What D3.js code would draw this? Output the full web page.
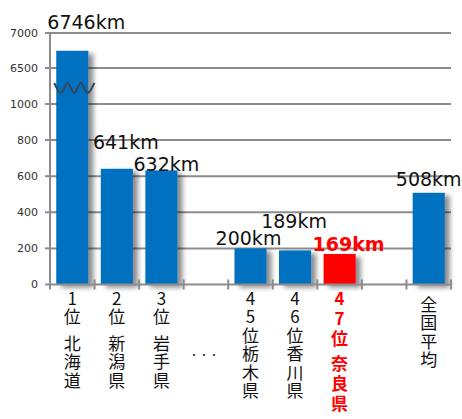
<!DOCTYPE html>
<html>
<head>
<meta charset="utf-8">
<script src="https://cdn.jsdelivr.net/npm/d3@7"></script>
<style>
  body { margin: 0; background: #fff; }
  svg { display: block; }
  .vert { writing-mode: vertical-rl; text-orientation: upright; }
</style>
</head>
<body>
<svg width="462" height="419"></svg>
<script>
// data
var categories = ["1位 北海道", "2位 新潟県", "3位 岩手県", "・・・", "45位栃木県", "46位香川県", "47位 奈良県", "", "全国平均"];
var values = [6746, 641, 632, null, 200, 189, 169, null, 508];
var highlight = "47位 奈良県";
var yTicks = [0, 200, 400, 600, 800, 1000, 6500, 7000];

// layout
var svg = d3.select("svg");
var left = 50, right = 451, bottom = 284.5;

var x = d3.scaleBand()
  .domain(d3.range(categories.length))
  .range([left, right])
  .paddingInner(0.28)
  .paddingOuter(0.14);

// broken axis: 0-1000 and 6500-7000
var y = d3.scaleLinear()
  .domain([0, 1000, 6500, 7000])
  .range([bottom, 104, 68, 33]);

// small nudges so value labels sit where the original put them
var labelNudge = {0: [14, -22], 1: [9, -19.5], 2: [5, 1], 4: [-2, -3.5], 5: [-1, -22], 6: [9, -3], 8: [0, -7]};

var defs = svg.append("defs");
defs.append("filter")
  .attr("id", "shadow")
  .attr("x", "-20%").attr("y", "-10%")
  .attr("width", "160%").attr("height", "130%")
  .append("feDropShadow")
  .attr("dx", 5).attr("dy", 3)
  .attr("stdDeviation", 2.5)
  .attr("flood-color", "#000")
  .attr("flood-opacity", 0.45);

// grid lines
svg.append("g").selectAll("line")
  .data(yTicks.filter(function(d) { return d > 0; }))
  .enter().append("line")
  .attr("x1", left).attr("x2", right)
  .attr("y1", function(d) { return y(d); })
  .attr("y2", function(d) { return y(d); })
  .attr("stroke", "#8c8c8c")
  .attr("stroke-width", 2);

// bars
var rows = categories.map(function(c, i) { return {i: i, cat: c, v: values[i]}; })
  .filter(function(d) { return d.v != null; });

svg.append("g").selectAll("rect")
  .data(rows)
  .enter().append("rect")
  .attr("x", function(d) { return x(d.i); })
  .attr("y", function(d) { return y(d.v); })
  .attr("width", x.bandwidth())
  .attr("height", function(d) { return bottom - y(d.v); })
  .attr("fill", function(d) { return d.cat === highlight ? "#ff0000" : "#0070c0"; })
  .attr("filter", "url(#shadow)");

// break mark on the first bar
var breakY = (y(1000) + y(6500)) / 2 + 2;
var bx0 = x(0) - 2, bx1 = x(0) + x.bandwidth() + 6;
var wave = d3.range(7).map(function(k) {
  return [bx0 + k * (bx1 - bx0) / 6, breakY + (k % 2 ? 5 : -5)];
});
svg.append("path")
  .attr("d", d3.line().curve(d3.curveCardinal)(wave))
  .attr("fill", "none")
  .attr("stroke", "#364656")
  .attr("stroke-width", 2);

// y axis
svg.append("line")
  .attr("x1", left).attr("x2", left)
  .attr("y1", y(7000)).attr("y2", bottom + 4)
  .attr("stroke", "#8c8c8c").attr("stroke-width", 2);

var yt = svg.append("g").selectAll("g")
  .data(yTicks).enter().append("g")
  .attr("transform", function(d) { return "translate(0," + y(d) + ")"; });
yt.append("line")
  .attr("x1", left - 5).attr("x2", left)
  .attr("stroke", "#8c8c8c").attr("stroke-width", 2);
yt.append("text")
  .attr("x", 38).attr("dy", "0.35em")
  .attr("text-anchor", "end")
  .attr("font-family", "DejaVu Sans, sans-serif")
  .attr("font-size", 11)
  .attr("fill", "#333")
  .text(function(d) { return d; });

// x axis
svg.append("line")
  .attr("x1", left).attr("x2", right)
  .attr("y1", bottom).attr("y2", bottom)
  .attr("stroke", "#8c8c8c").attr("stroke-width", 2);
svg.append("g").selectAll("line")
  .data(d3.range(categories.length + 1))
  .enter().append("line")
  .attr("x1", function(k) { return left + k * x.step(); })
  .attr("x2", function(k) { return left + k * x.step(); })
  .attr("y1", bottom - 5).attr("y2", bottom + 5)
  .attr("stroke", "#8c8c8c").attr("stroke-width", 2);

// value labels
svg.append("g").selectAll("text")
  .data(rows)
  .enter().append("text")
  .attr("x", function(d) { return x(d.i) + x.bandwidth() / 2 + labelNudge[d.i][0]; })
  .attr("y", function(d) { return y(d.v) + labelNudge[d.i][1]; })
  .attr("text-anchor", "middle")
  .attr("font-family", "DejaVu Sans, sans-serif")
  .attr("font-size", 19)
  .attr("font-weight", function(d) { return d.cat === highlight ? "bold" : "normal"; })
  .attr("fill", function(d) { return d.cat === highlight ? "#ff0000" : "#111"; })
  .text(function(d) { return d.v + "km"; });

// vertical category labels (upright vertical text, one text per word)
categories.forEach(function(cat, i) {
  if (!cat) return;
  var cx = x(i) + x.bandwidth() / 2;
  if (cat === "・・・") {
    svg.append("text")
      .attr("x", cx - 2).attr("y", 359)
      .attr("text-anchor", "middle")
      .attr("font-family", "Noto Sans CJK JP, sans-serif")
      .attr("font-size", 10)
      .attr("fill", "#222")
      .text(cat);
    return;
  }
  var hot = cat === highlight;
  var step = hot ? 20 : 18.5;
  var yy = /\d/.test(cat[0]) ? 290 : 296;
  cat.split(" ").forEach(function(word) {
    svg.append("text")
      .attr("class", "vert")
      .attr("x", cx).attr("y", yy)
      .attr("font-family", "Noto Sans CJK JP, sans-serif")
      .attr("font-size", 17)
      .attr("letter-spacing", step - 17)
      .attr("font-weight", hot ? "bold" : "normal")
      .attr("fill", hot ? "#ff0000" : "#111")
      .text(word);
    yy += Array.from(word).length * step + (hot ? 5 : 8);
  });
});
</script>
</body>
</html>
